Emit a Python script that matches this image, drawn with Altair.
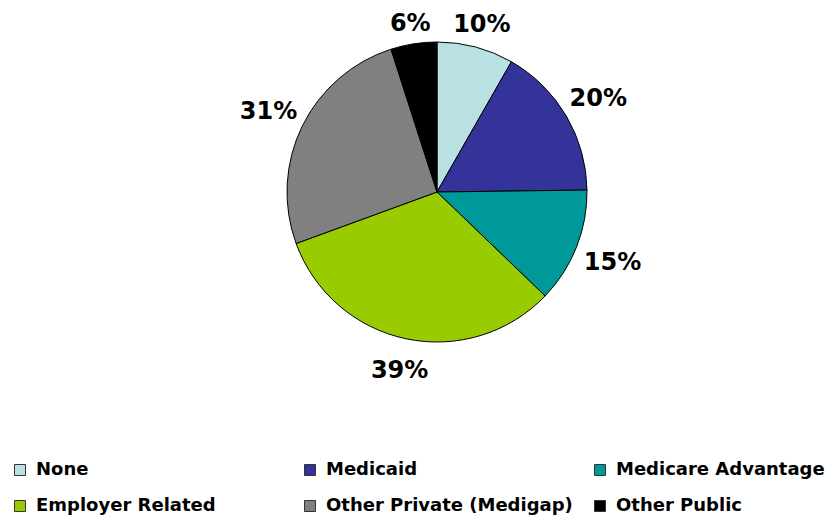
import altair as alt
import pandas as pd

categories = ["None", "Medicaid", "Medicare Advantage", "Employer Related",
              "Other Private (Medigap)", "Other Public"]
values = [10, 20, 15, 39, 31, 6]
colors = ["#B9E0E3", "#333399", "#009999", "#99CC00", "#808080", "#000000"]

df = pd.DataFrame({
    "category": categories,
    "value": values,
    "label": [f"{v}%" for v in values],
    "order": list(range(len(categories))),
})

FONT = "DejaVu Sans"
R = 150

pie = alt.Chart(df).mark_arc(outerRadius=R, stroke="black", strokeWidth=1).encode(
    theta=alt.Theta("value:Q", stack=True),
    order=alt.Order("order:Q"),
    color=alt.Color(
        "category:N",
        scale=alt.Scale(domain=categories, range=colors),
        legend=alt.Legend(
            title=None,
            orient="none",
            direction="horizontal",
            legendX=-32,
            legendY=453,
            columns=3,
            gridAlign="all",
            columnPadding=18,
            rowPadding=18,
            symbolType="square",
            symbolSize=121,
            symbolStrokeColor="#333333",
            symbolStrokeWidth=1,
            labelFont=FONT,
            labelFontSize=18,
            labelFontWeight="bold",
            labelColor="black",
            labelOffset=7,
            labelLimit=400,
            padding=0,
        ),
    ),
)

# label placement: outside the slice edge, pushed out by half the label box
text = (
    alt.Chart(df)
    .transform_window(cum="sum(value)", sort=[alt.SortField("order")])
    .transform_joinaggregate(total="sum(value)")
    .transform_calculate(mid="2*PI*(datum.cum - datum.value/2)/datum.total")
    .transform_calculate(
        r=f"{R} + 8 + 28*abs(sin(datum.mid)) + 10*abs(cos(datum.mid))"
          " + (cos(datum.mid) < 0 ? 8*cos(datum.mid)*cos(datum.mid) : 0)"
    )
    .mark_text(font=FONT, fontSize=24, fontWeight="bold", color="black", dy=2)
    .encode(
        theta=alt.Theta("mid:Q", scale=None, stack=False),
        radius=alt.Radius("r:Q", scale=None),
        text="label:N",
    )
)

chart = (
    alt.layer(pie, text)
    .properties(
        width=788,
        height=368,
        autosize=alt.AutoSizeParams(type="none"),
        padding={"left": 35, "top": 0, "right": 0, "bottom": 140},
    )
    .configure_view(stroke=None)
    .configure(background="white")
)

chart.save("out.html", embed_options={"renderer": "svg", "actions": False})
